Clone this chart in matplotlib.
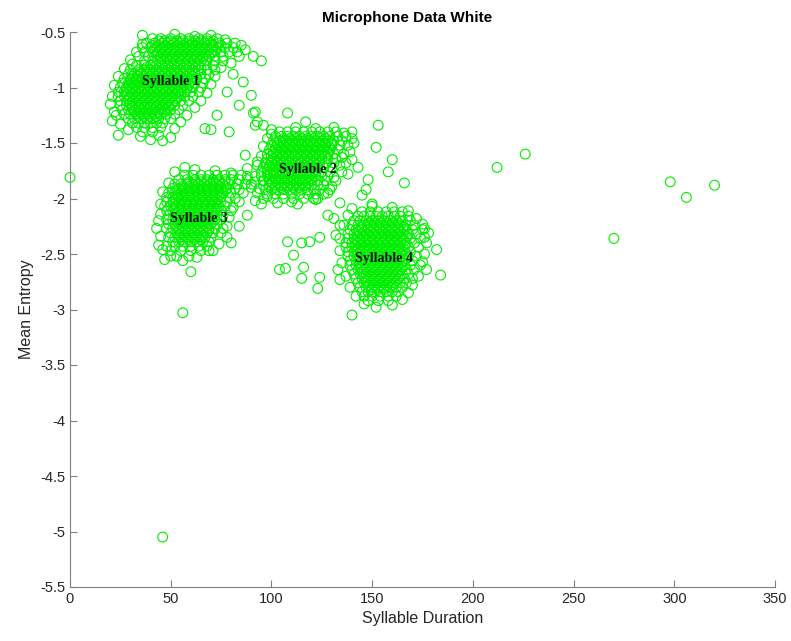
import numpy as np
import matplotlib.pyplot as plt

# syllable clusters, stored as mean entropy -> list of durations
syl1_rows = {
    -0.56: [41, 45, 50, 55, 59, 64, 68, 73],
    -0.60: [38, 42, 46, 49, 52, 55, 58, 61, 64, 67, 70, 74, 78],
    -0.64: [36, 40, 43, 46, 49, 52, 55, 58, 61, 64, 67, 70, 73, 77, 81],
    -0.68: [37, 41, 44, 47, 50, 53, 56, 59, 62, 65, 68, 71, 75, 79, 83],
    -0.72: [39, 42, 45, 48, 51, 54, 57, 60, 63, 66, 69, 72, 76],
    -0.76: [37, 41, 44, 47, 50, 53, 56, 59, 62, 65, 68, 72, 76],
    -0.80: [33, 37, 40, 43, 46, 49, 52, 55, 58, 61, 64, 67, 71],
    -0.84: [30, 34, 37, 40, 43, 46, 49, 52, 55, 58, 61, 64, 68, 72],
    -0.88: [29, 32, 35, 38, 41, 44, 47, 50, 53, 56, 59, 62, 65, 69],
    -0.92: [27, 30, 33, 36, 39, 42, 45, 48, 51, 54, 57, 60, 63, 67],
    -0.96: [26, 29, 32, 35, 38, 41, 44, 47, 50, 53, 56, 59, 62, 66],
    -1.00: [25, 28, 31, 34, 37, 40, 43, 46, 49, 52, 55, 58, 61, 65],
    -1.04: [24, 27, 30, 33, 36, 39, 42, 45, 48, 51, 54, 57, 60, 64],
    -1.08: [24, 27, 30, 33, 36, 39, 42, 45, 48, 51, 54, 57, 61],
    -1.12: [25, 28, 31, 34, 37, 40, 43, 46, 49, 52, 55, 59],
    -1.16: [25, 28, 31, 34, 37, 40, 43, 46, 49, 52, 56],
    -1.20: [26, 29, 32, 35, 38, 41, 44, 47, 50, 54],
    -1.24: [27, 30, 33, 36, 39, 42, 45, 48, 52],
    -1.28: [29, 32, 35, 38, 41, 44, 47, 50],
    -1.32: [31, 34, 37, 40, 43, 46],
    -1.36: [33, 37, 41, 45],
    -1.40: [36, 41],
}
syl1_core = {
    -0.58: [44, 47, 50, 53, 56, 59, 62, 65, 68, 71],
    -0.62: [41, 44, 47, 50, 53, 56, 59, 62, 65, 68, 71, 75],
    -0.66: [42, 45, 48, 51, 54, 57, 60, 63, 66, 69, 72],
    -0.70: [43, 46, 49, 52, 55, 58, 61, 64, 67, 70],
    -0.74: [45, 48, 51, 54, 57, 60, 63, 66],
    -0.82: [38, 41, 44, 47, 50, 53, 56, 59, 62, 65],
    -0.86: [35, 38, 41, 44, 47, 50, 53, 56, 59, 62],
    -0.90: [31, 34, 37, 40, 43, 46, 49, 52, 55, 58, 61],
    -0.94: [30, 33, 36, 39, 42, 45, 48, 51, 54, 57, 60],
    -0.98: [29, 32, 35, 38, 41, 44, 47, 50, 53, 56, 59],
    -1.02: [28, 31, 34, 37, 40, 43, 46, 49, 52, 55, 58],
    -1.06: [28, 31, 34, 37, 40, 43, 46, 49, 52, 55],
    -1.10: [29, 32, 35, 38, 41, 44, 47, 50, 53],
    -1.14: [30, 33, 36, 39, 42, 45, 48, 51],
    -1.18: [31, 34, 37, 40, 43, 46, 49],
    -1.22: [32, 35, 38, 41, 44, 47],
    -1.26: [34, 37, 40, 43],
}
syl2_rows = {
    -1.40: [104, 108, 112, 116, 120, 124, 128, 132],
    -1.44: [102, 105, 108, 111, 114, 117, 120, 123, 126, 129, 133, 137],
    -1.48: [101, 104, 107, 110, 113, 116, 119, 122, 125, 128, 131, 135],
    -1.52: [100, 103, 106, 109, 112, 115, 118, 121, 124, 127, 130, 134, 138],
    -1.56: [99, 102, 105, 108, 111, 114, 117, 120, 123, 126, 129, 133],
    -1.60: [98, 101, 104, 107, 110, 113, 116, 119, 122, 125, 128, 131, 136],
    -1.64: [98, 101, 104, 107, 110, 113, 116, 119, 122, 125, 128, 132],
    -1.68: [97, 100, 103, 106, 109, 112, 115, 118, 121, 124, 127, 131, 137],
    -1.72: [96, 99, 102, 105, 108, 111, 114, 117, 120, 123, 126, 130],
    -1.76: [95, 98, 101, 104, 107, 110, 113, 116, 119, 122, 125, 129, 135],
    -1.80: [95, 98, 101, 104, 107, 110, 113, 116, 119, 122, 125, 128],
    -1.84: [96, 99, 102, 105, 108, 111, 114, 117, 120, 123, 127, 132],
    -1.88: [96, 99, 102, 105, 108, 111, 114, 117, 120, 123, 126],
    -1.92: [97, 100, 103, 106, 109, 112, 115, 118, 121, 124, 129],
    -1.96: [98, 102, 106, 110, 114, 118, 122, 126],
    -2.00: [101, 106, 111, 116, 121],
}
syl2_core = {
    -1.46: [106, 109, 112, 115, 118, 121, 124, 127],
    -1.50: [103, 106, 109, 112, 115, 118, 121, 124, 127, 130],
    -1.54: [102, 105, 108, 111, 114, 117, 120, 123, 126, 129],
    -1.58: [101, 104, 107, 110, 113, 116, 119, 122, 125, 128],
    -1.62: [100, 103, 106, 109, 112, 115, 118, 121, 124, 127],
    -1.66: [100, 103, 106, 109, 112, 115, 118, 121, 124],
    -1.70: [99, 102, 105, 108, 111, 114, 117, 120, 123],
    -1.74: [98, 101, 104, 107, 110, 113, 116, 119, 122],
    -1.78: [98, 101, 104, 107, 110, 113, 116, 119, 122],
    -1.82: [99, 102, 105, 108, 111, 114, 117, 120],
    -1.86: [100, 103, 106, 109, 112, 115, 118],
    -1.90: [102, 105, 108, 111, 114, 117],
}
syl3_rows = {
    -1.79: [57, 61, 65, 69, 73, 77, 81, 85],
    -1.83: [54, 58, 62, 65, 68, 71, 74, 77, 80, 84, 88],
    -1.87: [52, 55, 58, 61, 64, 67, 70, 73, 76, 79, 83, 87],
    -1.91: [51, 54, 57, 60, 63, 66, 69, 72, 75, 78, 82],
    -1.95: [49, 52, 55, 58, 61, 64, 67, 70, 73, 76, 80, 86],
    -1.99: [48, 51, 54, 57, 60, 63, 66, 69, 72, 75, 79],
    -2.03: [48, 51, 54, 57, 60, 63, 66, 69, 72, 75, 78, 84],
    -2.07: [47, 50, 53, 56, 59, 62, 65, 68, 71, 74, 77],
    -2.11: [48, 51, 54, 57, 60, 63, 66, 69, 72, 75, 80],
    -2.15: [49, 52, 55, 58, 61, 64, 67, 70, 73, 76],
    -2.19: [48, 51, 54, 57, 60, 63, 66, 69, 72, 75],
    -2.23: [49, 52, 55, 58, 61, 64, 67, 70, 73],
    -2.27: [48, 51, 54, 57, 60, 63, 66, 69, 72, 76],
    -2.31: [50, 53, 56, 59, 62, 65, 68, 71, 75],
    -2.35: [49, 52, 55, 58, 61, 64, 67, 70, 78],
    -2.39: [51, 54, 57, 60, 63, 66, 69],
    -2.43: [48, 52, 56, 60, 64, 68],
    -2.47: [50, 55, 60, 65, 71],
    -2.52: [53, 59],
}
syl3_core = {
    -1.85: [59, 62, 65, 68, 71, 74, 77],
    -1.89: [56, 59, 62, 65, 68, 71, 74, 77],
    -1.93: [53, 56, 59, 62, 65, 68, 71, 74, 77],
    -1.97: [53, 56, 59, 62, 65, 68, 71, 74],
    -2.01: [52, 55, 58, 61, 64, 67, 70, 73],
    -2.05: [52, 55, 58, 61, 64, 67, 70, 73],
    -2.09: [52, 55, 58, 61, 64, 67, 70, 73],
    -2.13: [53, 56, 59, 62, 65, 68, 71],
    -2.17: [53, 56, 59, 62, 65, 68, 71],
    -2.21: [53, 56, 59, 62, 65, 68, 71],
    -2.25: [53, 56, 59, 62, 65, 68],
    -2.29: [54, 57, 60, 63, 66, 69],
    -2.33: [54, 57, 60, 63, 66],
    -2.37: [56, 59, 62, 65],
}
syl4_rows = {
    -2.12: [145, 149, 153, 157, 161, 165],
    -2.16: [143, 146, 149, 152, 155, 158, 161, 164, 168],
    -2.20: [141, 144, 147, 150, 153, 156, 159, 162, 165, 169],
    -2.24: [140, 143, 146, 149, 152, 155, 158, 161, 164, 167, 171],
    -2.28: [139, 142, 145, 148, 151, 154, 157, 160, 163, 166, 170, 175],
    -2.32: [138, 141, 144, 147, 150, 153, 156, 159, 162, 165, 168, 172],
    -2.36: [138, 141, 144, 147, 150, 153, 156, 159, 162, 165, 169, 174],
    -2.40: [137, 140, 143, 146, 149, 152, 155, 158, 161, 164, 167, 171],
    -2.44: [137, 140, 143, 146, 149, 152, 155, 158, 161, 164, 168, 173],
    -2.48: [138, 141, 144, 147, 150, 153, 156, 159, 162, 165, 169],
    -2.52: [138, 141, 144, 147, 150, 153, 156, 159, 162, 165, 168, 172],
    -2.56: [139, 142, 145, 148, 151, 154, 157, 160, 163, 166, 170],
    -2.60: [139, 142, 145, 148, 151, 154, 157, 160, 163, 166, 169, 174],
    -2.64: [140, 143, 146, 149, 152, 155, 158, 161, 164, 167, 171],
    -2.68: [141, 144, 147, 150, 153, 156, 159, 162, 165, 168],
    -2.72: [142, 145, 148, 151, 154, 157, 160, 163, 166, 170],
    -2.76: [143, 146, 149, 152, 155, 158, 161, 164, 167],
    -2.80: [144, 147, 150, 153, 156, 159, 162, 165],
    -2.84: [145, 148, 151, 154, 157, 160, 163],
    -2.88: [146, 150, 154, 158, 162],
    -2.92: [148, 153, 158],
}
syl4_core = {
    -2.22: [148, 151, 154, 157, 160, 163],
    -2.26: [145, 148, 151, 154, 157, 160, 163, 166],
    -2.30: [143, 146, 149, 152, 155, 158, 161, 164, 167],
    -2.34: [143, 146, 149, 152, 155, 158, 161, 164, 167],
    -2.38: [142, 145, 148, 151, 154, 157, 160, 163, 166],
    -2.42: [142, 145, 148, 151, 154, 157, 160, 163, 166],
    -2.46: [142, 145, 148, 151, 154, 157, 160, 163, 166],
    -2.50: [143, 146, 149, 152, 155, 158, 161, 164, 167],
    -2.54: [143, 146, 149, 152, 155, 158, 161, 164, 167],
    -2.58: [144, 147, 150, 153, 156, 159, 162, 165],
    -2.62: [144, 147, 150, 153, 156, 159, 162, 165],
    -2.66: [145, 148, 151, 154, 157, 160, 163],
    -2.70: [146, 149, 152, 155, 158, 161, 164],
    -2.74: [147, 150, 153, 156, 159, 162],
    -2.78: [148, 151, 154, 157, 160],
    -2.82: [150, 153, 156],
}

# loose syllables along the rim of each cluster (duration, entropy)
syl1_edge = [
    (36, -0.53), (52, -0.52), (62, -0.54), (70, -0.53), (77, -0.57), (82, -0.60),
    (87, -0.66), (84, -0.72), (80, -0.78), (75, -0.82), (72, -0.90), (70, -0.97),
    (68, -1.05), (65, -1.12), (62, -1.18), (58, -1.25), (55, -1.31), (52, -1.37),
    (44, -1.43), (35, -1.44), (29, -1.38), (25, -1.33), (23, -1.25), (21, -1.08),
    (22, -0.98), (24, -0.90), (27, -0.83), (31, -0.79), (34, -0.72), (36, -0.61),
]
syl2_edge = [
    (100, -1.38), (112, -1.36), (122, -1.37), (131, -1.36), (136, -1.41), (140, -1.46),
    (139, -1.58), (135, -1.63), (134, -1.70), (138, -1.78), (131, -1.81), (130, -1.89),
    (128, -1.95), (123, -2.00), (110, -2.03), (103, -2.04), (96, -2.00), (94, -1.91),
    (92, -1.80), (93, -1.70), (95, -1.62), (96, -1.53), (98, -1.46), (100, -1.42),
]
syl3_edge = [
    (52, -1.76), (62, -1.74), (72, -1.75), (80, -1.77), (88, -1.80), (90, -1.87),
    (84, -1.92), (82, -2.00), (81, -2.08), (79, -2.17), (78, -2.25), (74, -2.41),
    (69, -2.47), (63, -2.53), (56, -2.56), (50, -2.52), (46, -2.46), (45, -2.34),
    (44, -2.20), (45, -2.05), (46, -1.94), (49, -1.86),
]
syl4_edge = [
    (140, -2.09), (150, -2.07), (160, -2.08), (168, -2.11), (172, -2.18), (175, -2.23),
    (178, -2.31), (177, -2.40), (176, -2.50), (175, -2.57), (177, -2.64), (173, -2.70),
    (170, -2.78), (168, -2.85), (165, -2.91), (160, -2.96), (152, -2.98), (146, -2.95),
    (142, -2.88), (139, -2.80), (137, -2.70), (135, -2.58), (134, -2.47), (134, -2.36),
    (136, -2.24), (138, -2.15),
]

# scattered syllables away from the clusters (duration, entropy)
stray_pts = [
    (0, -1.81), (46, -5.05),
    (30, -0.75), (33, -0.68), (85, -0.62), (91, -0.72), (95, -0.76),
    (81, -0.88), (86, -0.95), (78, -1.04), (90, -1.07), (84, -1.16),
    (91, -1.23), (93, -1.31), (73, -1.25), (70, -1.38), (79, -1.40),
    (20, -1.15), (22, -1.22), (21, -1.30), (24, -1.43), (40, -1.47),
    (46, -1.48), (50, -1.45), (67, -1.37),
    (92, -1.22), (108, -1.23), (92, -1.34), (96, -1.34), (117, -1.31),
    (153, -1.34), (140, -1.40), (141, -1.50), (152, -1.54), (87, -1.61),
    (140, -1.65), (160, -1.65), (88, -1.73), (143, -1.72), (158, -1.76),
    (148, -1.83), (166, -1.86), (92, -1.85), (147, -1.92), (93, -1.95),
    (145, -1.97), (122, -2.01), (134, -2.04), (113, -2.05), (150, -2.05),
    (128, -2.15), (93, -1.67), (57, -1.72),
    (90, -1.90), (92, -2.02), (95, -2.05), (98, -1.98), (88, -2.15),
    (84, -2.25), (80, -2.40), (44, -2.42), (43, -2.27), (45, -2.14),
    (47, -2.55), (60, -2.66), (56, -3.03),
    (108, -2.39), (115, -2.40), (119, -2.39), (124, -2.35), (111, -2.51),
    (104, -2.64), (107, -2.63), (115, -2.72), (116, -2.62), (124, -2.71),
    (123, -2.81), (133, -2.64), (134, -2.73), (132, -2.33), (134, -2.24),
    (131, -2.18), (140, -3.05), (184, -2.69), (182, -2.46), (176, -2.35),
    (176, -2.27),
    (212, -1.72), (226, -1.60), (270, -2.36), (298, -1.85), (306, -1.99),
    (320, -1.88),
]

label_text = ['Syllable 1', 'Syllable 2', 'Syllable 3', 'Syllable 4']
label_x = [50, 118, 64, 156]
label_y = [-0.95, -1.74, -2.18, -2.54]

dur, ent = [], []
for rows in (syl1_rows, syl1_core, syl2_rows, syl2_core,
             syl3_rows, syl3_core, syl4_rows, syl4_core):
    for y, xs in rows.items():
        dur += xs
        ent += [y] * len(xs)
for pts in (syl1_edge, syl2_edge, syl3_edge, syl4_edge, stray_pts):
    for x, y in pts:
        dur.append(x)
        ent.append(y)

fig = plt.figure(figsize=(7.91, 6.41), dpi=100)
ax = fig.add_axes([70/791, 54/641, 705/791, 555/641])
ax.scatter(dur, ent, s=50, facecolors='none', edgecolors='#00ee00',
           linewidths=0.8, clip_on=False, zorder=2)

for t, x, y in zip(label_text, label_x, label_y):
    ax.text(x, y, t, ha='center', va='center', fontsize=10, fontweight='bold',
            family='Liberation Serif', color='#111111', zorder=3)

ax.set_xlim(0, 350)
ax.set_ylim(-5.5, -0.5)
ax.set_xticks(np.arange(0, 351, 50))
ax.set_yticks(np.arange(-5.5, -0.49, 0.5))
ax.set_yticklabels([f'{v:g}' for v in np.arange(-5.5, -0.49, 0.5)])

for s in ['top', 'right']:
    ax.spines[s].set_visible(False)
for s in ['left', 'bottom']:
    ax.spines[s].set_color('#808080')
ax.tick_params(direction='in', length=5, colors='#808080', labelcolor='#262626',
               labelsize=10.5)
for lab in ax.get_xticklabels() + ax.get_yticklabels():
    lab.set_family('Liberation Sans')

ax.set_xlabel('Syllable Duration', fontsize=11.5, family='Liberation Sans', color='#262626')
ax.set_ylabel('Mean Entropy', fontsize=11.5, family='Liberation Sans', color='#262626')
fig.text(407/791, 1 - 18/641, 'Microphone Data White', ha='center', va='center',
         fontsize=11, fontweight='bold', family='Liberation Sans')

plt.savefig('out.png', dpi=100)
